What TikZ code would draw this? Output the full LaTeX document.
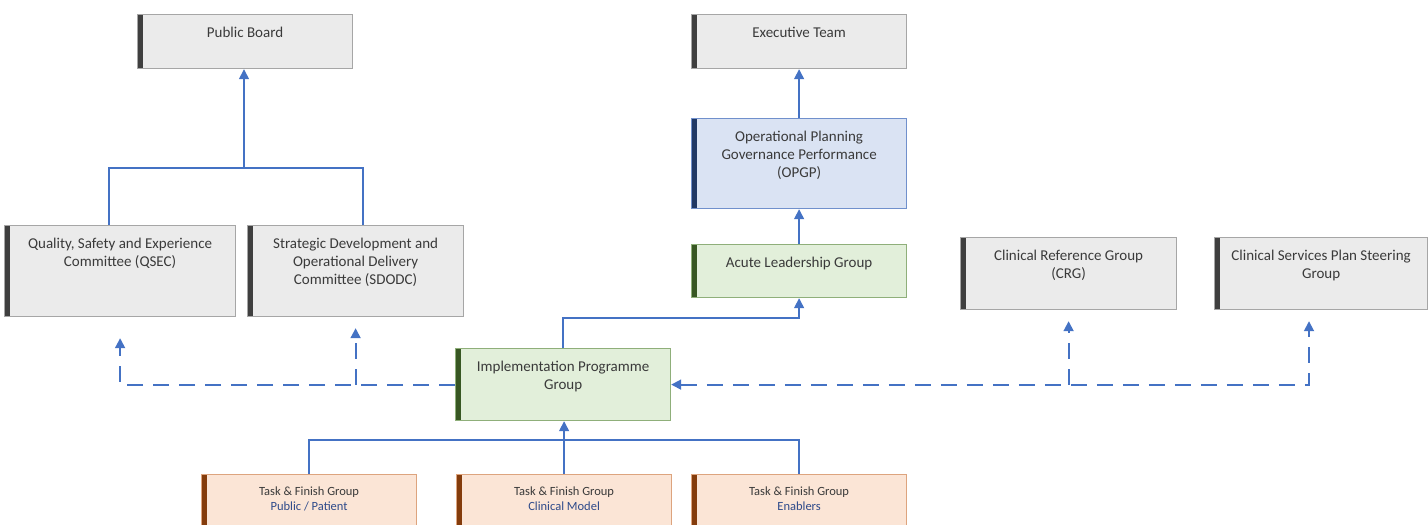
\documentclass[tikz,border=0pt]{standalone}
\usepackage{fontspec}
\setmainfont{Carlito}
\usepackage{tikz}
\usetikzlibrary{arrows.meta}
\definecolor{linkblue}{HTML}{4472C4}
\definecolor{textgray}{HTML}{3A3A3A}
\definecolor{tfblue}{HTML}{2E4A8A}
\definecolor{grayfill}{HTML}{EBEBEB}
\definecolor{grayline}{HTML}{A6A6A6}
\definecolor{graybar}{HTML}{3F3F3F}
\definecolor{bluefill}{HTML}{DAE3F3}
\definecolor{blueline}{HTML}{7090CC}
\definecolor{bluebar}{HTML}{203864}
\definecolor{greenfill}{HTML}{E2EFDA}
\definecolor{greenline}{HTML}{8FAF7A}
\definecolor{greenbar}{HTML}{385723}
\definecolor{orangefill}{HTML}{FBE5D6}
\definecolor{orangeline}{HTML}{DDA47E}
\definecolor{orangebar}{HTML}{843C0C}
% box text, top aligned
\newcommand{\grp}[3]{\parbox[t][#2pt][t]{#1pt}{\centering\rule{0pt}{23pt}#3}}
\newcommand{\tfg}[1]{\parbox[t][60pt][t]{215pt}{\centering\rule{0pt}{21pt}Task \& Finish Group\\{\color{tfblue}#1}}}
\tikzset{
    %Define standard arrow tip
    >={Triangle[width=10pt,length=10pt]},
    %Define style for boxes
    groupbox/.style n args={3}{
           rectangle,
           draw=#1, line width=1.2pt,
           fill=#2,
           inner sep=0pt,
           anchor=north west,
           text=textgray,
           font=\fontsize{15}{18}\selectfont,
           path picture={\fill[#3] (path picture bounding box.south west) rectangle ([xshift=5pt]path picture bounding box.north west);}},
    graybox/.style={groupbox={grayline}{grayfill}{graybar}},
    bluebox/.style={groupbox={blueline}{bluefill}{bluebar}},
    greenbox/.style={groupbox={greenline}{greenfill}{greenbar}},
    taskbox/.style={groupbox={orangeline}{orangefill}{orangebar},
           font=\fontsize{12.5}{14.5}\selectfont},
    % Define connector styles
    link/.style={
           draw=linkblue,
           line width=1.5pt},
    dlink/.style={
           draw=linkblue,
           line width=1.8pt,
           dash pattern=on 16pt off 10pt}
}
\begin{document}
\begin{tikzpicture}[x=1pt,y=-1pt]
\useasboundingbox (0,0) rectangle (1428,525);
 %nodes
\node[graybox] (pb) at (137,14) {\grp{215}{54}{Public Board}};
\node[graybox] (et) at (691,14) {\grp{215}{54}{Executive Team}};
\node[bluebox] (opgp) at (691,118) {\grp{215}{90}{Operational Planning\\Governance Performance\\(OPGP)}};
\node[greenbox] (alg) at (691,244) {\grp{215}{53}{Acute Leadership Group}};
\node[graybox] (qsec) at (4,225) {\grp{231}{91}{Quality, Safety and Experience\\Committee (QSEC)}};
\node[graybox] (sdodc) at (247,225) {\grp{216}{91}{Strategic Development and\\Operational Delivery\\Committee (SDODC)}};
\node[graybox] (crg) at (960,237) {\grp{216}{72}{Clinical Reference Group\\(CRG)}};
\node[graybox] (cspsg) at (1214,237) {\grp{213}{72}{Clinical Services Plan Steering\\Group}};
\node[greenbox] (ipg) at (455,348) {\grp{215}{72}{Implementation Programme\\Group}};
\node[taskbox] (tfpp) at (201,474) {\tfg{Public / Patient}};
\node[taskbox] (tfcm) at (456,474) {\tfg{Clinical Model}};
\node[taskbox] (tfen) at (691,474) {\tfg{Enablers}};

 %connectors
\draw[link] ([xshift=105pt]qsec.north west) -- ++(0,-57) -| ([xshift=116pt]sdodc.north west);
\coordinate (cmte) at (244,168);
\draw[link,->] (cmte) -- (cmte |- pb.south);
\draw[link,->] (opgp) -- (et);
\draw[link,->] (alg) -- (opgp);
\draw[link,->] (ipg.north) -- ++(0,-30) -| (alg.south);
\draw[link] (tfpp.north) -- ++(0,-34) -| (tfen.north);
\draw[link,->] (tfcm.north) -- (tfcm.north |- ipg.south);
\draw[dlink,->] (ipg.west) -| ([yshift=-21pt]qsec.south);
\draw[dlink,->] (ipg.west -| sdodc.south) -- ([yshift=-11pt]sdodc.south);
\draw[dlink,<->] (ipg.east) -| ([xshift=95pt,yshift=-11pt]cspsg.south west);
\draw[dlink,->] (ipg.east -| crg.south) -- ([yshift=-11pt]crg.south);
\end{tikzpicture}
\end{document}
